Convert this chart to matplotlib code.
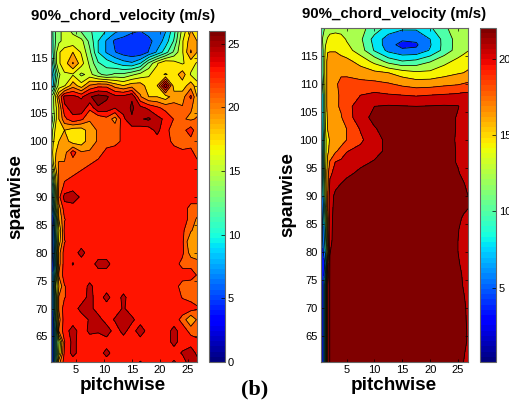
import numpy as np
import matplotlib
matplotlib.use("Agg")
import matplotlib.pyplot as plt
from matplotlib.cm import ScalarMappable
from matplotlib.colors import Normalize

plt.rcParams['font.family'] = ['Liberation Sans', 'DejaVu Sans']

# panel (left) measured velocity
left_x = [0.6, 1, 1.5, 2, 3, 4.5, 6, 7.5, 9, 10.5, 12, 13.5, 15, 16.5, 18, 19.5, 21, 22.5, 24, 25.5, 26.6]
left_y = [120, 118, 116, 114, 112, 110, 108, 106, 104, 102, 100, 98, 96, 94, 92, 90, 88, 86, 84, 82, 80,
          78, 76, 74, 72, 70, 68, 66, 64, 62, 60.4]
left_v = [
    [9, 10, 12, 13, 14, 13, 11, 10, 9, 8, 7, 6, 5, 4.5, 5, 5, 6, 9, 14, 17, 16],
    [8, 10, 12, 13, 14, 14, 14, 11, 8, 6, 4, 3.5, 3, 3.5, 4, 5, 7, 10, 15, 18, 17],
    [8, 10, 13, 15, 16, 17, 15, 12, 8, 6, 4.5, 3.5, 3, 3, 4.5, 6.5, 9, 12, 15, 19, 17],
    [6, 9, 13, 15, 16, 19, 16, 13, 10, 9, 8, 7, 6.5, 8, 12, 15, 17, 16, 15, 16, 15],
    [5, 7, 10, 13, 15, 15, 13, 14, 12, 11, 12, 12, 13, 14, 15, 16, 15, 16, 18, 15, 14],
    [6, 8, 12, 14, 15, 18, 16, 19, 20, 20, 18, 17, 18, 18, 16, 17, 24, 16, 16, 18, 16],
    [12, 13, 16, 19, 23, 23, 22, 24, 25, 24.5, 23, 23, 24, 19, 17, 17, 16, 18, 18, 21, 17],
    [12, 13, 15, 17, 22, 23, 24, 21, 24, 23.5, 22.5, 23, 24.5, 23, 22, 21, 20, 19.5, 19, 19, 18],
    [10, 12, 15, 17, 20, 22, 21, 19, 19, 20, 18, 22, 24, 24, 24.5, 23, 22, 20.5, 19, 18.5, 19],
    [12, 14, 16, 16, 17, 16, 16, 18, 19, 19.5, 20, 21, 21.5, 21.5, 21.5, 23, 21, 20, 20, 21.5, 19.5],
    [12, 15, 16, 17, 18, 16, 16, 18, 19, 20, 20, 21, 21.5, 21.5, 21.5, 21.5, 21.5, 20, 19.5, 20, 20],
    [13, 16, 17, 18, 18, 21.5, 19, 19, 20, 21, 21.5, 21.5, 21.5, 21.5, 21.5, 21.5, 21.5, 21.5, 21, 21, 20],
    [12, 15, 18, 19, 19, 19.5, 20, 20.5, 21, 21.5, 21.5, 21.5, 21.5, 21.5, 21.5, 21.5, 21.5, 21.5, 21.5, 21.5, 21],
    [8, 12, 16, 19, 20, 20.5, 21, 21.5, 21.5, 21.5, 21.5, 21.5, 21.5, 21.5, 21.5, 21.5, 21.5, 21.5, 21.5, 21.5, 21.5],
    [5, 9, 15, 19, 21, 21.5, 21.5, 21.5, 21.5, 21.5, 21.5, 21.5, 21.5, 21.5, 21.5, 21.5, 21.5, 21.5, 21.5, 21.5, 21.5],
    [3, 8, 14, 20, 23, 23.5, 22, 21.5, 21.5, 21.5, 21.5, 21.5, 21.5, 21.5, 21.5, 21.5, 21.5, 21.5, 21.5, 21.5, 21.5],
    [1.5, 6, 13, 18, 21.5, 21.5, 21.5, 21.5, 21.5, 21.5, 21.5, 21.5, 21.5, 21.5, 21.5, 21.5, 21.5, 21.5, 21.5, 20, 20],
    [1.5, 4, 10, 17, 20.5, 21.5, 21.5, 21.5, 21.5, 21.5, 21.5, 21.5, 21.5, 21.5, 21.5, 21.5, 21.5, 21.5, 21.5, 20, 18.5],
    [1.5, 3, 10, 15, 21, 21, 21.5, 21.5, 21.5, 21.5, 21.5, 21.5, 21.5, 21.5, 21.5, 21.5, 21.5, 21.5, 21, 19, 18],
    [1.5, 3, 9, 16, 20.5, 21.5, 21.5, 21.5, 21.5, 21.5, 21.5, 21.5, 21.5, 21, 21.5, 21.5, 21.5, 21.5, 21, 17, 18],
    [1.5, 3, 10, 18, 21.5, 21.5, 23, 21.5, 21.5, 21.5, 21.5, 21.5, 21.5, 21.5, 21.5, 21.5, 21.5, 21.5, 21, 18, 17],
    [1.5, 4, 9, 18, 21.5, 22.5, 21.5, 21.5, 23, 23, 21.5, 21.5, 21.5, 21.5, 21.5, 21.5, 21.5, 21.5, 20, 20, 20],
    [1.5, 5, 11, 19, 21.5, 21.5, 21.5, 21.5, 21.5, 21.5, 21.5, 21.5, 21.5, 21.5, 21.5, 21.5, 21.5, 21.5, 21.5, 21.5, 20.5],
    [1.5, 5, 14, 17, 20.5, 21.5, 21.5, 22.8, 21.5, 21.5, 21.5, 21.5, 21.5, 21.5, 21.5, 21.5, 21.5, 21.5, 19.8, 19.5, 19.5],
    [1.5, 5, 12, 19, 20.5, 21.5, 21.5, 23, 21.5, 23, 21.5, 22.8, 21.5, 21.5, 21.5, 21.5, 21.5, 21.5, 20.5, 20, 20],
    [1.5, 5, 12, 19, 21.5, 21.5, 23, 23, 21.5, 21.5, 21.5, 22.6, 21.5, 21.5, 21.5, 21.5, 21.5, 21.5, 21.5, 21.5, 20.8],
    [1.5, 4, 11, 18, 21.5, 21.5, 21.5, 22.6, 23.2, 21.5, 22.6, 22.6, 22.8, 21.5, 21.5, 21.5, 21.5, 21.5, 20, 17, 19],
    [1.5, 4, 9, 19, 21.5, 23.2, 21.5, 22.8, 22.6, 23.5, 21.5, 23, 21.5, 23.5, 21.5, 21.5, 21.5, 23, 21.5, 20, 19],
    [1.5, 4, 9, 13, 20.5, 23, 21.5, 21.5, 21.5, 21.5, 21.5, 21.5, 21.5, 21.5, 21.5, 21.5, 21.5, 23, 21.5, 21.5, 21.5],
    [1.5, 4, 9, 14, 21, 23, 21.5, 21.5, 21.5, 23, 21.5, 21.5, 21.5, 21.5, 21.5, 21.5, 21.5, 21.5, 22.6, 23.5, 22],
    [1.5, 4, 10, 18, 21.5, 21.5, 21.5, 21.5, 21.5, 21.5, 21.5, 21.5, 21.5, 22.5, 21.5, 21.5, 21.5, 22.6, 21.5, 23.5, 23],
]
left_levels = [0, 0.8, 2.6, 4.4, 6.2, 8, 9.8, 11.6, 13.4, 15.2, 17, 18.8, 20.6, 22.4, 24.2, 26]
left_ticks = [0, 5, 10, 15, 20, 25]

# panel (right) smoothed velocity
right_x = [0.4, 0.8, 1.2, 1.6, 2, 3, 4, 5, 7.5, 10, 12.5, 15, 17.5, 20, 22.5, 25, 26, 26.8]
right_y = [120, 118, 117, 116, 114, 112, 110, 108, 106, 104, 102, 100, 98, 96, 94, 92, 90, 88, 86, 84, 82, 80,
           78, 76, 74, 72, 70, 68, 66, 64, 62, 60.3]
right_v = [
    [7.5, 9, 10.5, 11, 11, 11, 11, 11, 10.5, 9, 7, 6, 6, 7.5, 9.5, 11, 11.5, 11.5],
    [9, 10.5, 11.5, 12.3, 13, 13.5, 13, 11.9, 10.3, 7, 4.5, 3.8, 3.9, 5.6, 8.5, 10.8, 11.5, 11.8],
    [8.5, 10.2, 12, 13, 13.5, 13.8, 13.2, 12.4, 10.6, 7.3, 4.3, 2.8, 3.2, 5.4, 8.5, 10.8, 11.5, 11.9],
    [8, 10, 12.5, 14, 14, 14, 13.5, 13, 10.9, 7.6, 5, 3.9, 3.9, 5.8, 8.5, 10.9, 11.5, 12],
    [7, 10, 13, 15, 15.5, 15.5, 15, 14.8, 13.5, 11.5, 9.2, 8, 8.5, 9.8, 11.5, 12.7, 13.2, 13.6],
    [7, 10, 13, 15, 15.5, 15.8, 16, 15.9, 15.2, 14.7, 14.2, 13.2, 12.5, 12.6, 13.3, 14, 14.2, 14.4],
    [6, 9, 13, 15, 15.5, 16, 16.8, 17, 17, 16.9, 16.5, 15.8, 15.3, 15.4, 15.8, 16.1, 16.4, 16.6],
    [5, 8, 13, 15, 15.5, 16, 16.5, 17.5, 18.4, 18.9, 18.6, 18.4, 18.2, 18.4, 18.6, 18.8, 19, 19],
    [5, 8, 13, 15, 15.5, 15.9, 16.6, 18, 19, 20.5, 20.7, 20.6, 20.5, 20.6, 20.7, 20.6, 20, 19.7],
    [4.5, 8, 12.5, 14.6, 15, 15.5, 16.1, 17.5, 19.5, 21.2, 21.5, 21.5, 21.5, 21.5, 21.5, 20.3, 20, 20],
    [4, 8, 12, 14.3, 14.7, 15, 15.5, 16.3, 18.6, 20.3, 21.5, 21.5, 21.5, 21.5, 21.5, 20.3, 20, 20],
    [4, 7, 11.5, 13.5, 14.4, 14.8, 15.4, 16.3, 18, 19.8, 21, 21.5, 21.5, 21.5, 21.5, 20.2, 20, 20],
    [3.5, 7, 11.5, 13.8, 14.8, 16, 17, 18.3, 19, 19.8, 21, 21.5, 21.5, 21.5, 21.5, 20.3, 20, 20],
    [3, 7, 11.5, 14.8, 16.5, 18.5, 18.9, 19.2, 20, 20.7, 21.5, 21.5, 21.5, 21.5, 21.5, 20.3, 20, 20],
    [3, 7, 12, 15.5, 18, 19.1, 19.6, 20, 21, 21.5, 21.5, 21.5, 21.5, 21.5, 21.5, 20.7, 20, 19.8],
    [3, 6.5, 11.5, 15.5, 18.8, 20, 20.6, 21.2, 21.5, 21.5, 21.5, 21.5, 21.5, 21.5, 21.5, 21.2, 20.7, 20],
    [3, 6, 11, 16, 19.5, 21, 21.5, 21.5, 21.5, 21.5, 21.5, 21.5, 21.5, 21.5, 21.5, 21.5, 21, 20.5],
    [2.5, 5, 10, 16, 19.6, 21.2, 21.5, 21.5, 21.5, 21.5, 21.5, 21.5, 21.5, 21.5, 21.5, 21.5, 21, 20.6],
    [2, 4.5, 9, 15, 19.8, 21.3, 21.5, 21.5, 21.5, 21.5, 21.5, 21.5, 21.5, 21.5, 21.5, 21, 20.2, 19.9],
    [2, 4, 8, 15, 20, 21.2, 21.5, 21.5, 21.5, 21.5, 21.5, 21.5, 21.5, 21.5, 21.5, 20.6, 20, 19.7],
    [2, 4, 7, 14, 20.2, 21, 21.5, 21.5, 21.5, 21.5, 21.5, 21.5, 21.5, 21.5, 21.5, 20.5, 19.9, 19.7],
    [2, 3.5, 6, 12, 20.4, 21.5, 21.5, 21.5, 21.5, 21.5, 21.5, 21.5, 21.5, 21.5, 21.5, 20.5, 19.9, 19.7],
    [1.8, 2.5, 4, 15, 20.7, 21.5, 21.5, 21.5, 21.5, 21.5, 21.5, 21.5, 21.5, 21.5, 21.5, 20.7, 20, 19.9],
    [1.2, 2, 6, 17, 20.7, 21.5, 21.5, 21.5, 21.5, 21.5, 21.5, 21.5, 21.5, 21.5, 21.5, 20.9, 20.3, 20],
    [1, 2, 8, 18, 20.7, 21.5, 21.5, 21.5, 21.5, 21.5, 21.5, 21.5, 21.5, 21.5, 21.5, 21, 20.4, 20],
    [1, 2, 8, 18, 20.7, 21.5, 21.5, 21.5, 21.5, 21.5, 21.5, 21.5, 21.5, 21.5, 21.5, 21.1, 20.6, 20.1],
    [1, 2, 8, 18, 20.7, 21.5, 21.5, 21.5, 21.5, 21.5, 21.5, 21.5, 21.5, 21.5, 21.5, 21.2, 20.8, 20.2],
    [1, 2, 8, 18, 20.7, 21.5, 21.5, 21.5, 21.5, 21.5, 21.5, 21.5, 21.5, 21.5, 21.5, 21.2, 20.9, 20.2],
    [1, 2, 8, 18, 20.7, 21.5, 21.5, 21.5, 21.5, 21.5, 21.5, 21.5, 21.5, 21.5, 21.5, 21.3, 21, 20.3],
    [1, 2, 8, 18, 20.7, 21.5, 21.5, 21.5, 21.5, 21.5, 21.5, 21.5, 21.5, 21.5, 21.5, 21.3, 21, 20.3],
    [1, 2, 8, 18, 20.7, 21.5, 21.5, 21.5, 21.5, 21.5, 21.5, 21.5, 21.5, 21.5, 21.5, 21.2, 20.7, 20],
    [1, 2, 8, 18, 20.7, 21.5, 21.5, 21.5, 21.5, 21.5, 21.5, 21.5, 21.5, 21.5, 21.5, 21, 20.5, 20],
]
right_levels = [0, 1.4, 3.5, 5.6, 7.8, 9.9, 12.1, 14.2, 16.3, 18.4, 20.5, 22.6]
right_ticks = [5, 10, 15, 20]

x_ticks = [5, 10, 15, 20, 25]
y_ticks = [65, 70, 75, 80, 85, 90, 95, 100, 105, 110, 115]
title = "90%_chord_velocity (m/s)"

W, H = 510, 400
cmap = plt.get_cmap('jet', 64)


def pixel_axes(fig, x0, y0, x1, y1):
    # box in picture pixels, y counted from the top
    return fig.add_axes([x0 / W, 1 - y1 / H, (x1 - x0) / W, (y1 - y0) / H])


def draw_panel(fig, box, cbox, xs, ys, vals, levels, shift, xlim, ylim, clim, cticks, title_xy, span_xy, pitch_xy):
    ax = pixel_axes(fig, *box)
    norm = Normalize(*clim)
    # each band takes the colour of its upper level, as in the original colour scale
    band_colors = [cmap(norm(l + shift)) for l in levels[1:]]
    ax.contourf(xs, ys, vals, levels=levels, colors=band_colors, extend='max')
    ax.contour(xs, ys, vals, levels=levels, colors='k', linewidths=0.55)
    ax.set_xlim(*xlim)
    ax.set_ylim(*ylim)
    ax.set_xticks(x_ticks)
    ax.set_yticks(y_ticks)
    ax.tick_params(direction='in', length=2.5, width=0.5, top=True, right=True, labelsize=8, pad=2.5)
    for s in ax.spines.values():
        s.set_color('#666666')
        s.set_linewidth(0.8)

    cax = pixel_axes(fig, *cbox)
    cb = fig.colorbar(ScalarMappable(norm=norm, cmap=cmap), cax=cax)
    cb.set_ticks(cticks)
    cb.ax.tick_params(direction='in', length=3, width=0.5, labelsize=8, pad=2)
    cb.outline.set_edgecolor('#666666')
    cb.outline.set_linewidth(0.8)

    fig.text(title_xy[0] / W, 1 - title_xy[1] / H, title, ha='center', va='center',
             fontsize=10.8, fontweight='bold')
    fig.text(span_xy[0] / W, 1 - span_xy[1] / H, "spanwise", ha='center', va='center',
             rotation=90, fontsize=13.6, fontweight='bold')
    fig.text(pitch_xy[0] / W, 1 - pitch_xy[1] / H, "pitchwise", ha='center', va='center',
             fontsize=13.6, fontweight='bold')


fig = plt.figure(figsize=(W / 100, H / 100), dpi=100)

draw_panel(fig, (51, 31, 197, 362), (209, 31, 225, 362), left_x, left_y, left_v, left_levels, 0.4,
           (0.6, 26.6), (60.4, 119.8), (0, 26), left_ticks, (123, 16), (16, 197), (123, 386))
draw_panel(fig, (321, 28, 468, 362), (480, 28, 496, 362), right_x, right_y, right_v, right_levels, 0,
           (0.4, 26.8), (60.3, 120), (0.15, 22), right_ticks, (394, 14), (288, 195), (394, 386))

fig.text(255 / W, 1 - 389 / H, "(b)", ha='center', va='center', fontsize=16, fontweight='bold',
         family=['Liberation Serif', 'DejaVu Serif'])

fig.savefig("out.png", dpi=100)
plt.close(fig)
